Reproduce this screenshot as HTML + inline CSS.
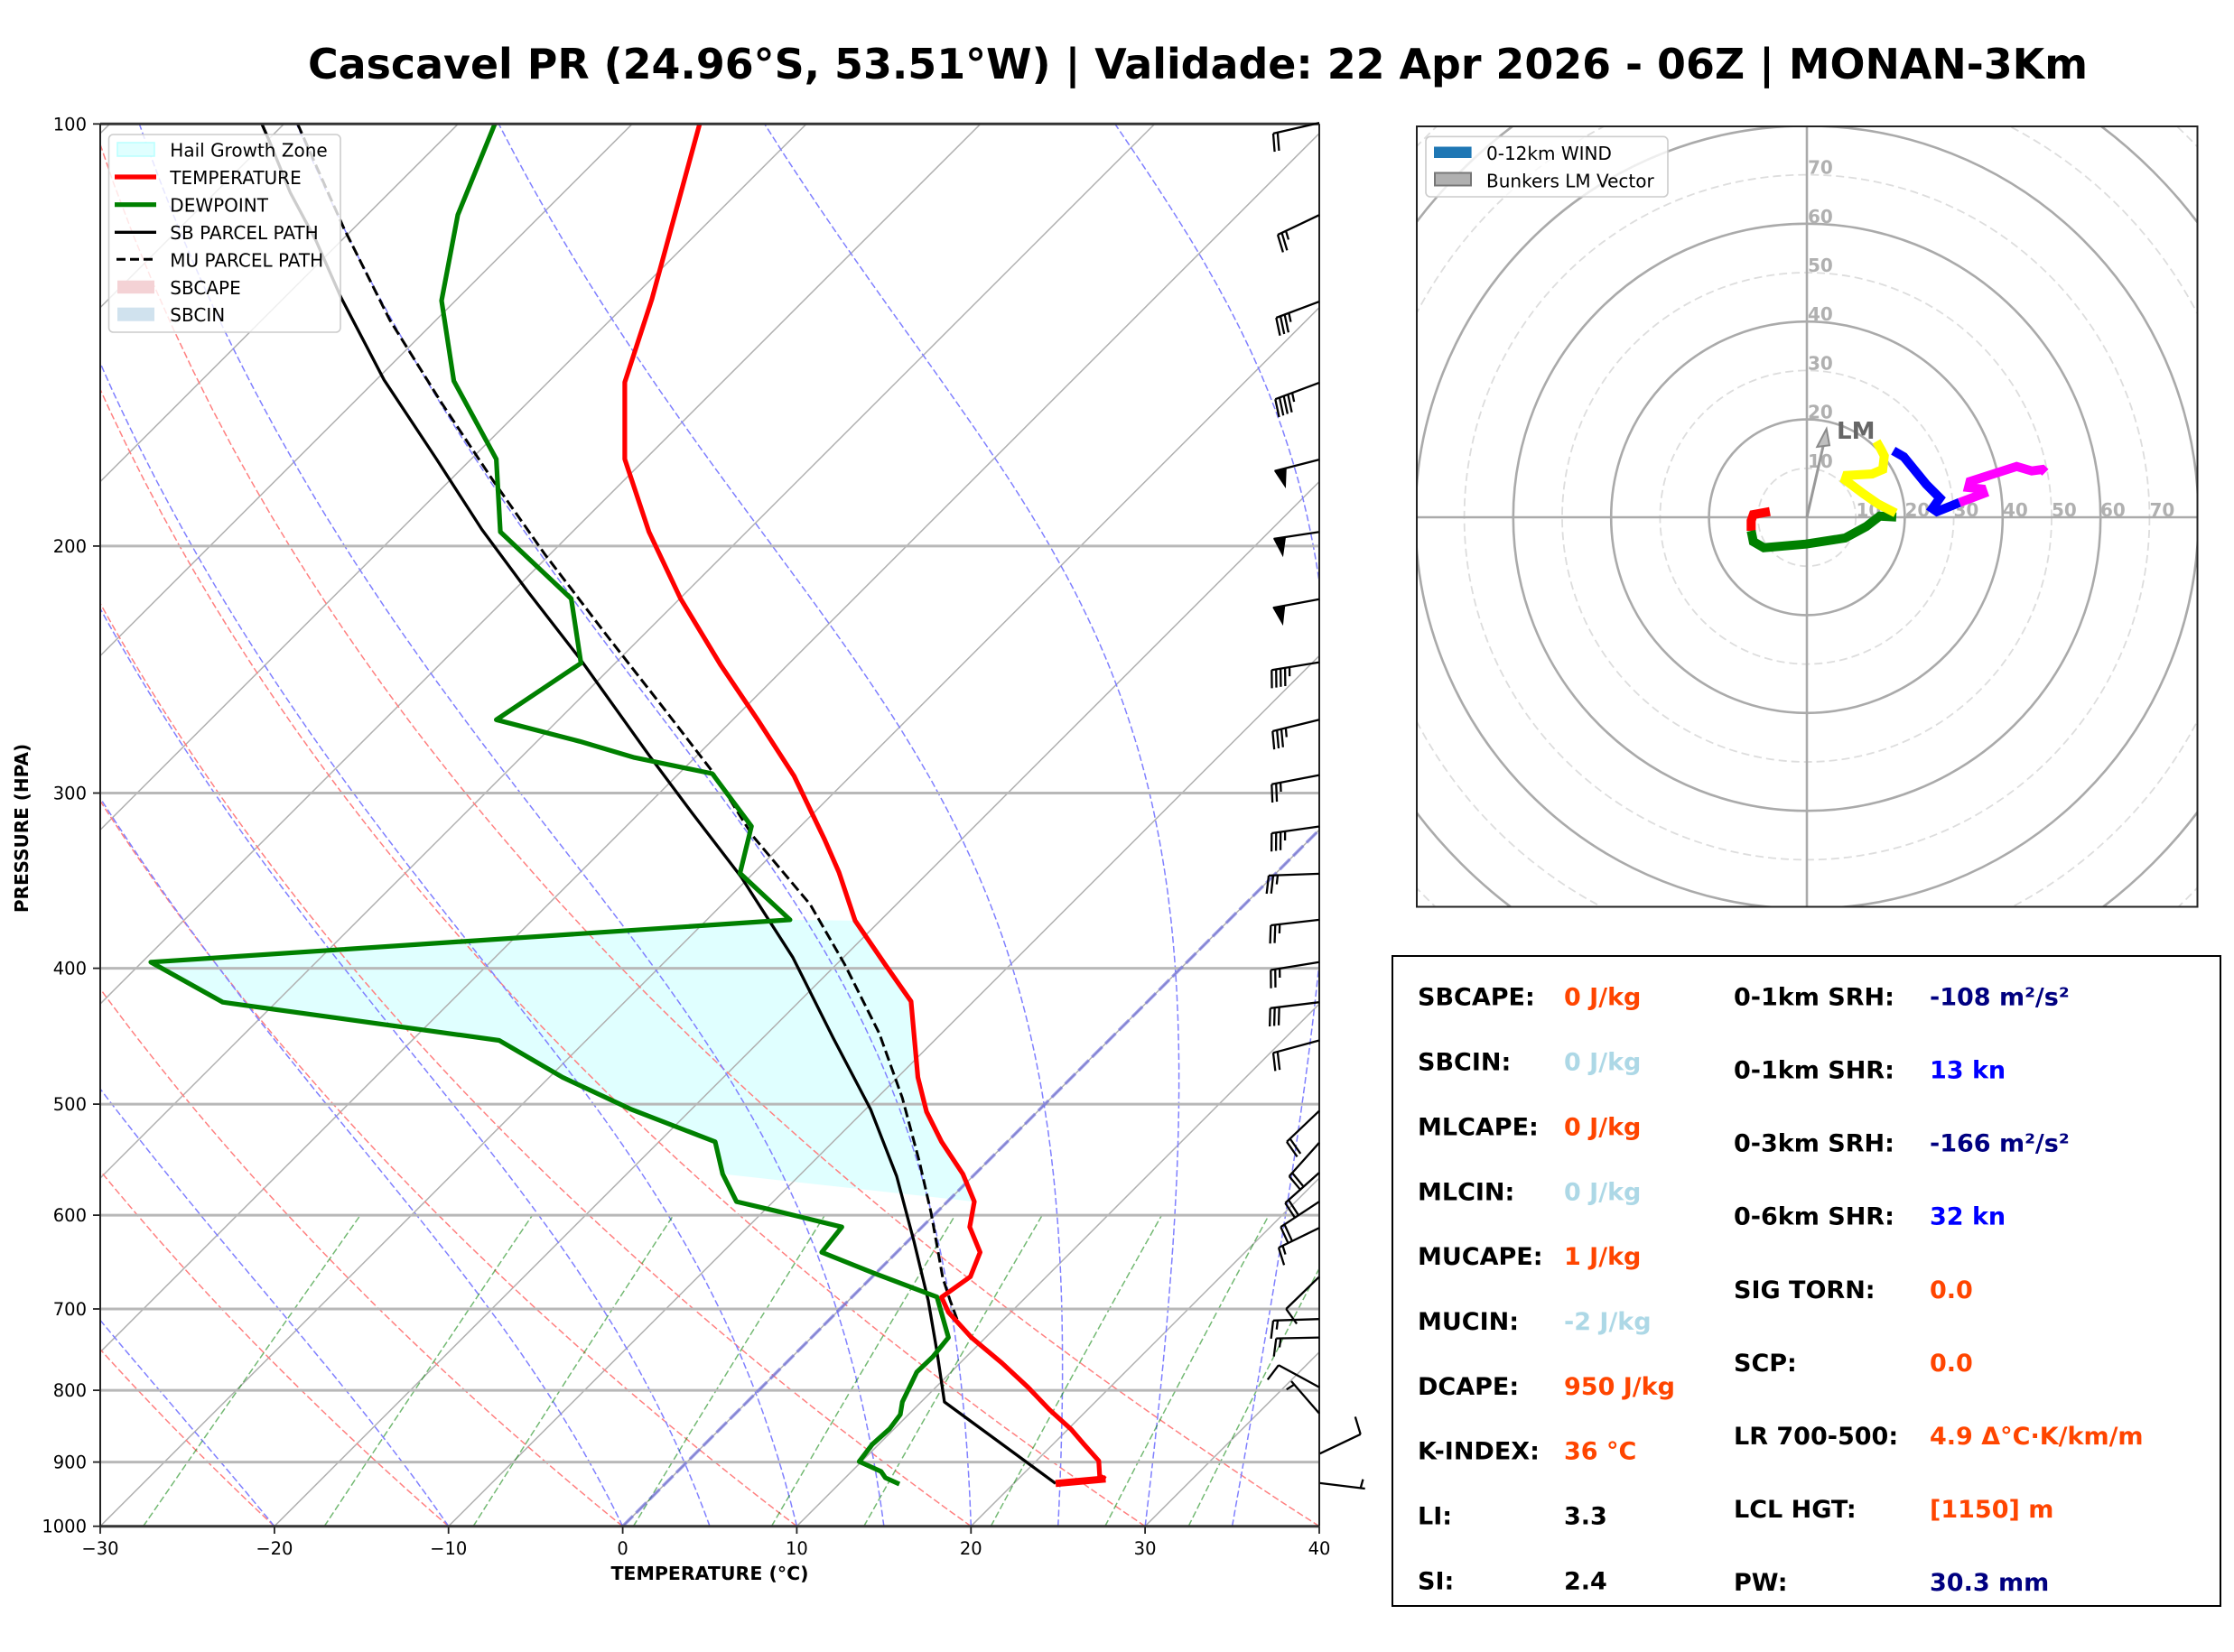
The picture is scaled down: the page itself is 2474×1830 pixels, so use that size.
<!DOCTYPE html>
<html><head><meta charset="utf-8">
<style>
html,body{margin:0;padding:0;background:#fff;}
svg{display:block;}
text{font-family:"DejaVu Sans","Liberation Sans",sans-serif;}
</style></head>
<body>
<svg id="s" xmlns="http://www.w3.org/2000/svg" width="2474" height="1830" viewBox="0 0 2474 1830">
<defs>
<clipPath id="ax"><rect x="111" y="137.3" width="1350" height="1553.4"/></clipPath>
<clipPath id="hb"><rect x="1569" y="140" width="864.5" height="864.5"/></clipPath>
</defs>
<rect width="2474" height="1830" fill="#fff"/>

<text x="341" y="87" font-size="46" font-weight="bold" textLength="1971" lengthAdjust="spacingAndGlyphs">Cascavel PR (24.96°S, 53.51°W) | Validade: 22 Apr 2026 - 06Z | MONAN-3Km</text>

<!-- SKEW-T -->
<g clip-path="url(#ax)">
  <polygon fill="#e0ffff" points="947,1019.9 980.2,1068.4 1008.9,1109.2 1016.5,1193.4 1026.1,1231.6 1042.7,1264.8 1066.3,1300.5 1079,1331.1 800.3,1300.5 792,1264.8 699.5,1229.1 623,1193.4 552.8,1152.5 246.7,1110.2 167,1065.8 874.9,1018.9"/>
  <g id="bg"></g>
  <g stroke="#b8b8b8" stroke-width="3">
    <line x1="111" x2="1461" y1="604.9" y2="604.9"/>
    <line x1="111" x2="1461" y1="878.5" y2="878.5"/>
    <line x1="111" x2="1461" y1="1072.6" y2="1072.6"/>
    <line x1="111" x2="1461" y1="1223.1" y2="1223.1"/>
    <line x1="111" x2="1461" y1="1346.1" y2="1346.1"/>
    <line x1="111" x2="1461" y1="1450" y2="1450"/>
    <line x1="111" x2="1461" y1="1540.1" y2="1540.1"/>
    <line x1="111" x2="1461" y1="1619.6" y2="1619.6"/>
  </g>
  <line x1="689.6" y1="1690.7" x2="2243" y2="137.3" stroke="#6464e0" stroke-opacity="0.6" stroke-width="3.5" stroke-dasharray="16 5"/>
  <polyline fill="none" stroke="#000" stroke-width="3.3" stroke-linejoin="round" points="290,137.3 298.5,156.7 321.4,213.3 350,266.7 377.4,329 425.3,420.8 482.7,507.5 533.7,586.6 584.7,655.5 642.1,729.5 718.7,836.6 766,900 820.7,971.4 878.1,1060.7 922.8,1150 964.2,1229 993,1303 1012,1374.5 1028,1440.8 1037.6,1497 1045.9,1553 1169,1643.3"/>
  <polyline fill="none" stroke="#000" stroke-width="3" stroke-dasharray="11.5 5" points="329.6,137.3 380.6,252.4 431.7,354.5 489,446.3 546.5,533 603.9,614.7 674,706.5 737.8,788.2 788.8,854.5 833.5,925.9 897.3,1002 935.5,1068.4 973.8,1144.9 999.3,1216.3 1018.4,1287.8 1031.2,1343.9 1044,1415.3 1052,1440 1061.8,1466.7 1076,1482"/>
  <polyline fill="none" stroke="#008000" stroke-width="5.2" stroke-linejoin="round" points="548,137.3 507,238 489,333 502.6,422 549.6,508.6 554.1,589.2 632.6,663.2 643.4,734.6 549.6,797.3 642.1,821.3 702.7,839.2 788.8,857 832.2,915.3 819.5,967.3 874.9,1018.9 167,1065.8 246.7,1110.2 552.8,1152.5 623,1193.4 699.5,1229.1 792,1264.8 800.3,1300.5 815.6,1331.1 859,1341.3 932.3,1359.2 910,1387.2 967.4,1410.2 1037.6,1436.7 1050.3,1481.6 1033,1503 1015.3,1519.9 999.3,1553 997,1567 985,1583 966,1600 951.5,1619 975.7,1630 980.5,1637 996,1644"/>
  <polyline fill="none" stroke="#ff0000" stroke-width="5.2" stroke-linejoin="round" points="774.8,137.3 721.9,331.5 691.9,423.4 691.9,508.6 718.7,589.2 753.7,663.2 798.4,737.1 839.8,798.4 879.4,859.6 913.2,930 929.1,966.3 947,1019.9 980.2,1068.4 1008.9,1109.2 1016.5,1193.4 1026.1,1231.6 1042.7,1264.8 1066.3,1300.5 1079,1331.1 1073.9,1359.2 1085.4,1387.2 1074.6,1414.3 1042.7,1437 1050.3,1453.6 1075.8,1481.6 1109.7,1510 1138.4,1536.7 1162.3,1561.7 1186.2,1583.3 1200.5,1600 1216.8,1618.3 1217.8,1635 1224.4,1638.3"/>
  <polyline fill="none" stroke="#ff0000" stroke-width="8" points="1224.4,1638.3 1169,1643.3"/>
</g>
<!-- spines -->
<line x1="111" y1="137.3" x2="1461" y2="137.3" stroke="#333" stroke-width="3"/>
<line x1="111" y1="1690.7" x2="1461" y2="1690.7" stroke="#333" stroke-width="3"/>
<line x1="111" y1="137.3" x2="111" y2="1690.7" stroke="#222" stroke-width="2"/>
<line x1="1461" y1="137.3" x2="1461" y2="1690.7" stroke="#222" stroke-width="2"/>
<g stroke="#222" stroke-width="1.8">
  <line x1="103" x2="111" y1="137.3" y2="137.3"/><line x1="103" x2="111" y1="604.9" y2="604.9"/>
  <line x1="103" x2="111" y1="878.5" y2="878.5"/><line x1="103" x2="111" y1="1072.6" y2="1072.6"/>
  <line x1="103" x2="111" y1="1223.1" y2="1223.1"/><line x1="103" x2="111" y1="1346.1" y2="1346.1"/>
  <line x1="103" x2="111" y1="1450" y2="1450"/><line x1="103" x2="111" y1="1540.1" y2="1540.1"/>
  <line x1="103" x2="111" y1="1619.6" y2="1619.6"/><line x1="103" x2="111" y1="1690.7" y2="1690.7"/>
  <line x1="111" x2="111" y1="1691" y2="1699"/><line x1="303.9" x2="303.9" y1="1691" y2="1699"/>
  <line x1="496.7" x2="496.7" y1="1691" y2="1699"/><line x1="689.6" x2="689.6" y1="1691" y2="1699"/>
  <line x1="882.4" x2="882.4" y1="1691" y2="1699"/><line x1="1075.3" x2="1075.3" y1="1691" y2="1699"/>
  <line x1="1268.1" x2="1268.1" y1="1691" y2="1699"/><line x1="1461" x2="1461" y1="1691" y2="1699"/>
</g>
<g font-size="19.5" text-anchor="end" fill="#000">
  <text x="96" y="144.3">100</text><text x="96" y="611.9">200</text><text x="96" y="885.5">300</text>
  <text x="96" y="1079.6">400</text><text x="96" y="1230.1">500</text><text x="96" y="1353.1">600</text>
  <text x="96" y="1457">700</text><text x="96" y="1547.1">800</text><text x="96" y="1626.6">900</text>
  <text x="96" y="1697.7">1000</text>
</g>
<g font-size="19.5" text-anchor="middle" fill="#000">
  <text x="111" y="1722">−30</text><text x="303.9" y="1722">−20</text><text x="496.7" y="1722">−10</text>
  <text x="689.6" y="1722">0</text><text x="882.4" y="1722">10</text><text x="1075.3" y="1722">20</text>
  <text x="1268.1" y="1722">30</text><text x="1461" y="1722">40</text>
</g>
<text x="786" y="1750" text-anchor="middle" font-weight="bold" font-size="20.5">TEMPERATURE (°C)</text>
<text transform="translate(31,917.5) rotate(-90)" text-anchor="middle" font-weight="bold" font-size="20">PRESSURE (HPA)</text>

<g id="barbs" stroke="#000" stroke-width="2.3" fill="#000"></g>

<!-- skew-T legend -->
<g>
  <rect x="120.5" y="149" width="256.5" height="219" rx="5" fill="#fff" fill-opacity="0.8" stroke="#cccccc" stroke-width="1.6"/>
  <rect x="130" y="158" width="41" height="15" fill="#e0ffff" stroke="#b8ffff" stroke-width="1.5"/>
  <line x1="127" x2="173" y1="196" y2="196" stroke="#ff0000" stroke-width="5.2"/>
  <line x1="127" x2="173" y1="226.7" y2="226.7" stroke="#008000" stroke-width="5.2"/>
  <line x1="127" x2="173" y1="257.3" y2="257.3" stroke="#000" stroke-width="3.3"/>
  <line x1="129" x2="173" y1="287.3" y2="287.3" stroke="#000" stroke-width="3" stroke-dasharray="10 5"/>
  <rect x="130" y="310.7" width="41" height="14.5" fill="#f4d2d5"/>
  <rect x="130" y="340.7" width="41" height="15" fill="#d0e2ee"/>
  <g font-size="20" fill="#000">
    <text x="188.3" y="173.3">Hail Growth Zone</text>
    <text x="188.3" y="204">TEMPERATURE</text>
    <text x="188.3" y="234.5">DEWPOINT</text>
    <text x="188.3" y="265">SB PARCEL PATH</text>
    <text x="188.3" y="295.5">MU PARCEL PATH</text>
    <text x="188.3" y="326">SBCAPE</text>
    <text x="188.3" y="356">SBCIN</text>
  </g>
</g>

<!-- HODOGRAPH -->
<g clip-path="url(#hb)">
  <g fill="none">
    <circle cx="2001" cy="573" r="54.2" stroke="#dddddd" stroke-width="1.8" stroke-dasharray="9 5"/>
    <circle cx="2001" cy="573" r="108.4" stroke="#aaaaaa" stroke-width="2.6"/>
    <circle cx="2001" cy="573" r="162.6" stroke="#dddddd" stroke-width="1.8" stroke-dasharray="9 5"/>
    <circle cx="2001" cy="573" r="216.8" stroke="#aaaaaa" stroke-width="2.6"/>
    <circle cx="2001" cy="573" r="271" stroke="#dddddd" stroke-width="1.8" stroke-dasharray="9 5"/>
    <circle cx="2001" cy="573" r="325.2" stroke="#aaaaaa" stroke-width="2.6"/>
    <circle cx="2001" cy="573" r="379.4" stroke="#dddddd" stroke-width="1.8" stroke-dasharray="9 5"/>
    <circle cx="2001" cy="573" r="433.6" stroke="#aaaaaa" stroke-width="2.6"/>
    <circle cx="2001" cy="573" r="487.8" stroke="#dddddd" stroke-width="1.8" stroke-dasharray="9 5"/>
    <circle cx="2001" cy="573" r="542" stroke="#aaaaaa" stroke-width="2.6"/>
    <circle cx="2001" cy="573" r="596.2" stroke="#dddddd" stroke-width="1.8" stroke-dasharray="9 5"/>
  </g>
  <line x1="1569" x2="2434" y1="573" y2="573" stroke="#aaaaaa" stroke-width="2.6"/>
  <line x1="2001" x2="2001" y1="140" y2="1005" stroke="#aaaaaa" stroke-width="2.6"/>
  <g font-size="20" font-weight="bold" fill="#b0b0b0">
    <text x="2002" y="517.8">10</text><text x="2002" y="463.6">20</text><text x="2002" y="409.4">30</text>
    <text x="2002" y="355.2">40</text><text x="2002" y="301">50</text><text x="2002" y="246.8">60</text>
    <text x="2002" y="192.6">70</text>
    <text x="2055.5" y="572">10</text><text x="2109.5" y="572">20</text><text x="2163.5" y="572">30</text>
    <text x="2218" y="572">40</text><text x="2272" y="572">50</text><text x="2326" y="572">60</text>
    <text x="2380.5" y="572">70</text>
  </g>
  <g fill="none" stroke-width="10" stroke-linejoin="miter">
    <polyline stroke="#ff0000" points="1960,566.7 1941.7,570 1939.3,576.7 1939.3,588"/>
    <polyline stroke="#008000" points="1939.3,588 1941.7,600 1953.3,606.7 2000,602.7 2043.3,596 2066.7,583.3 2081.7,571.7 2100,572.7"/>
    <polyline stroke="#ffff00" points="2099.3,568.3 2080,558.3 2063.3,546.7 2043.3,531.7 2045,526.7 2073.3,525 2085,520 2086.7,505 2083.3,498.3 2078,489"/>
    <polyline stroke="#0000ff" points="2096.7,499.3 2108.3,506 2133.3,536.7 2148.3,551.7 2140,563.3 2145,566.7 2170,556.7"/>
    <polyline stroke="#ff00ff" points="2170,556.7 2196.7,546.7 2195,541.7 2180,540 2181.7,533.3 2233.3,516.7 2250,521.7 2261.7,520 2265,523.3"/>
  </g>
  <line x1="2001" y1="573" x2="2020" y2="490" stroke="#999" stroke-width="3"/>
  <polygon points="2012.3,495 2022.7,475 2026,493.3" fill="#c0c0c0" stroke="#8a8a8a" stroke-width="2"/>
  <text x="2034" y="486" font-size="26" font-weight="bold" fill="#666">LM</text>
</g>
<rect x="1569" y="140" width="864.5" height="864.5" fill="none" stroke="#222" stroke-width="2"/>
<g>
  <rect x="1579" y="151.3" width="268" height="66.7" rx="5" fill="#fff" fill-opacity="0.8" stroke="#cccccc" stroke-width="1.6"/>
  <rect x="1588" y="162.5" width="41.6" height="12.5" fill="#1f77b4"/>
  <rect x="1589" y="191.5" width="40" height="14" fill="#b0b0b0" stroke="#777" stroke-width="2"/>
  <g font-size="20" fill="#000">
    <text x="1646" y="177">0-12km WIND</text>
    <text x="1646" y="207.4">Bunkers LM Vector</text>
  </g>
</g>

<!-- INFO BOX -->
<rect x="1542" y="1059" width="917" height="720" fill="#fff" stroke="#000" stroke-width="2"/>
<g font-size="27" font-weight="bold">
  <text x="1570" y="1113.7">SBCAPE:</text><text x="1732" y="1113.7" fill="#ff4500">0 J/kg</text>
  <text x="1570" y="1185.5">SBCIN:</text><text x="1732" y="1185.5" fill="#add8e6">0 J/kg</text>
  <text x="1570" y="1257.4">MLCAPE:</text><text x="1732" y="1257.4" fill="#ff4500">0 J/kg</text>
  <text x="1570" y="1329.3">MLCIN:</text><text x="1732" y="1329.3" fill="#add8e6">0 J/kg</text>
  <text x="1570" y="1401.1">MUCAPE:</text><text x="1732" y="1401.1" fill="#ff4500">1 J/kg</text>
  <text x="1570" y="1473">MUCIN:</text><text x="1732" y="1473" fill="#add8e6">-2 J/kg</text>
  <text x="1570" y="1544.9">DCAPE:</text><text x="1732" y="1544.9" fill="#ff4500">950 J/kg</text>
  <text x="1570" y="1616.7">K-INDEX:</text><text x="1732" y="1616.7" fill="#ff4500">36 °C</text>
  <text x="1570" y="1688.6">LI:</text><text x="1732" y="1688.6" fill="#000">3.3</text>
  <text x="1570" y="1760.4">SI:</text><text x="1732" y="1760.4" fill="#000">2.4</text>

  <text x="1920" y="1113.7">0-1km SRH:</text><text x="2137" y="1113.7" fill="#000080">-108 m²/s²</text>
  <text x="1920" y="1194.7">0-1km SHR:</text><text x="2137" y="1194.7" fill="#0000ff">13 kn</text>
  <text x="1920" y="1275.7">0-3km SRH:</text><text x="2137" y="1275.7" fill="#000080">-166 m²/s²</text>
  <text x="1920" y="1356.7">0-6km SHR:</text><text x="2137" y="1356.7" fill="#0000ff">32 kn</text>
  <text x="1920" y="1437.8">SIG TORN:</text><text x="2137" y="1437.8" fill="#ff4500">0.0</text>
  <text x="1920" y="1518.8">SCP:</text><text x="2137" y="1518.8" fill="#ff4500">0.0</text>
  <text x="1920" y="1599.8">LR 700-500:</text><text x="2137" y="1599.8" fill="#ff4500">4.9 Δ°C·K/km/m</text>
  <text x="1920" y="1680.8">LCL HGT:</text><text x="2137" y="1680.8" fill="#ff4500">[1150] m</text>
  <text x="1920" y="1761.8">PW:</text><text x="2137" y="1761.8" fill="#000080">30.3 mm</text>
</g>
</svg>

<script>
(function(){
var NS="http://www.w3.org/2000/svg";
var L=111,TOP=137.3,B=1690.7,SK=1.0,SC=19.2857;
function Y(p){return TOP+1553.4*Math.log10(p/100);}
function X(t,p){return L+(t+30)*SC+(B-Y(p))*SK;}
var bg=document.getElementById('bg');
function mk(tag,attrs,parent){var e=document.createElementNS(NS,tag);for(var k in attrs)e.setAttribute(k,attrs[k]);parent.appendChild(e);return e;}
function pth(pts,attrs,parent){var d='M'+pts.map(function(q){return q[0].toFixed(1)+','+q[1].toFixed(1);}).join('L');attrs.d=d;attrs.fill='none';return mk('path',attrs,parent);}
// isotherms
for(var t=-170;t<=40;t+=10){pth([[X(t,1000),B],[X(t,100),TOP]],{stroke:'#b0b0b0','stroke-width':1.5},bg);}
// dry adiabats
for(var t0=-30;t0<=40;t0+=10){var pts=[];for(var p=1000;p>=100;p-=10){var tk=(t0+273.15)*Math.pow(p/1000,0.2857);pts.push([X(tk-273.15,p),Y(p)]);}
 pth(pts,{stroke:'#ff8080','stroke-width':1.5,'stroke-dasharray':'7.5 3.3'},bg);}
// moist adiabats
var Rd=287.04,Cp=1005.7,Lv=2.501e6,eps=0.622;
function es(tk){var tc=tk-273.15;return 6.112*Math.exp(17.67*tc/(tc+243.5));}
function f(p,tk){var e=es(tk);var rs=eps*e/(p-e);return (Rd*tk+Lv*rs)/(Cp+Lv*Lv*rs*eps/(Rd*tk*tk))/p;}
var mt=[-30,-20,-10,0,5,10,15,20,25,30,35,40];
mt.forEach(function(t0){var tk=t0+273.15,p=1000,h=-5;var pts=[[X(t0,1000),Y(1000)]];
 while(p>100.01){var k1=f(p,tk),k2=f(p+h/2,tk+h/2*k1),k3=f(p+h/2,tk+h/2*k2),k4=f(p+h,tk+h*k3);tk+=h/6*(k1+2*k2+2*k3+k4);p+=h;pts.push([X(tk-273.15,p),Y(p)]);}
 pth(pts,{stroke:'#8080ff','stroke-width':1.5,'stroke-dasharray':'7.5 3.3'},bg);});
// mixing ratio
[0.0004,0.001,0.002,0.004,0.007,0.01,0.016,0.024,0.032].forEach(function(w){var pts=[];for(var p=1000;p>=600;p-=20){var e=w*p/(eps+w);var l=Math.log(e/6.112);var td=243.5*l/(17.67-l);pts.push([X(td,p),Y(p)]);}
 pth(pts,{stroke:'#008000','stroke-opacity':0.55,'stroke-width':1.5,'stroke-dasharray':'7.5 3.3'},bg);});
// barbs
var bb=document.getElementById('barbs');
function barb(by,tx,ty,fl,fu,ha,bx){bx=bx||1461;var dx=tx-bx,dy=ty-by,len=Math.hypot(dx,dy),ux=dx/len,uy=dy/len,nx=uy,ny=-ux;
 mk('line',{x1:bx,y1:by,x2:tx,y2:ty},bb);var s=0,i;
 for(i=0;i<fl;i++){var px=tx-ux*s,py=ty-uy*s,ix=tx-ux*(s+13),iy=ty-uy*(s+13),ax=ix+nx*20+ux*6,ay=iy+ny*20+uy*6;
  mk('polygon',{points:px+','+py+' '+ix+','+iy+' '+ax+','+ay,'stroke-width':1},bb);s+=15;}
 for(i=0;i<fu;i++){var qx=tx-ux*s,qy=ty-uy*s;mk('line',{x1:qx,y1:qy,x2:qx+nx*20+ux*3,y2:qy+ny*20+uy*3},bb);s+=5;}
 if(ha){if(fl+fu===0)s=5;var hx=tx-ux*s,hy=ty-uy*s;mk('line',{x1:hx,y1:hy,x2:hx+nx*10+ux*1.5,y2:hy+ny*10+uy*1.5},bb);}
}
var B_=[[136.1,1410,147.9,0,2,0],[238.2,1415,260.1,0,2,1],[334.1,1413.3,352,0,3,1],[423.9,1412.3,442.2,0,4,1],
[509.1,1411.7,521.8,1,0,0],[589.2,1410.7,596.9,1,0,0],[663.7,1410,673.2,1,0,0],[733.6,1408.3,742.2,0,4,1],
[797.3,1409.3,810,0,3,1],[858.6,1408.3,868.8,0,2,1],[915.5,1408.3,923,0,3,1],[967.9,1405,969.9,0,2,1],
[1018.9,1407.3,1025,0,2,1],[1065.8,1407.3,1074.5,0,2,1],[1110.2,1406.7,1116.8,0,3,0],[1152.5,1410,1166.3,0,2,0],
[1230.6,1425,1264.8,0,2,0],[1265.8,1427.7,1303,0,2,0],[1299,1423.3,1332.6,0,2,0],[1331.1,1418.3,1359.2,0,2,0],
[1360.2,1416,1382.1,0,1,1],[1414.3,1424.3,1450,0,1,0],[1461.2,1410,1462.8,0,1,1],[1481.6,1413.3,1482.6,0,1,1],
[1536.7,1416,1512.2,0,1,0],[1565.8,1430,1530,0,0,1],[1610.2,1506.7,1588.8,0,1,0,1461.7],[1642.9,1511.7,1649,0,0,1,1461.7]];
B_.forEach(function(b){barb(b[0],b[1],b[2],b[3],b[4],b[5],b[6]);});
})();
</script>
</body></html>
